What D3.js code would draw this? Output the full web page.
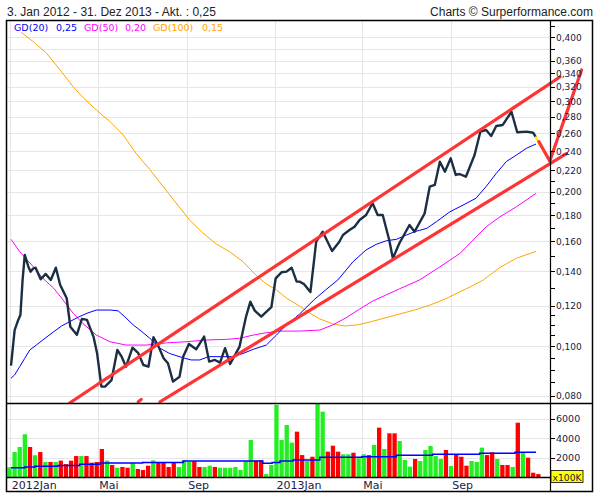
<!DOCTYPE html>
<html><head><meta charset="utf-8">
<script src="https://cdn.jsdelivr.net/npm/d3@7"></script>
<style>body{margin:0;background:#fff}svg{display:block}</style>
</head><body>
<svg id="c" width="600" height="500"></svg>
<script>
// ---------- DATA ----------
const priceDates = ["2012-01-02","2012-01-07","2012-01-12","2012-01-15","2012-01-18","2012-01-21","2012-01-26","2012-01-29","2012-02-02","2012-02-05",
"2012-02-12","2012-02-19","2012-02-26","2012-03-04","2012-03-10","2012-03-19","2012-03-24","2012-04-02","2012-04-09","2012-04-16",
"2012-04-25","2012-04-30","2012-05-06","2012-05-11","2012-05-20","2012-05-28","2012-06-03","2012-06-09","2012-06-18","2012-06-26",
"2012-07-03","2012-07-10","2012-07-17","2012-07-24","2012-07-31","2012-08-06","2012-08-13","2012-08-22","2012-08-27","2012-09-04",
"2012-09-14","2012-09-25","2012-10-02","2012-10-10","2012-10-17","2012-10-24","2012-10-31","2012-11-13","2012-11-22","2012-11-28",
"2012-12-04","2012-12-13","2012-12-27","2013-01-02","2013-01-10","2013-01-17","2013-01-24","2013-01-31","2013-02-04","2013-02-10",
"2013-02-19","2013-02-27","2013-03-08","2013-03-21","2013-03-31","2013-04-05","2013-04-14","2013-04-21","2013-04-28","2013-05-07",
"2013-05-16","2013-05-23","2013-05-30","2013-06-08","2013-06-13","2013-06-22","2013-07-06","2013-07-13","2013-07-27","2013-08-03",
"2013-08-10","2013-08-17","2013-08-24","2013-09-01","2013-09-08","2013-09-13","2013-09-22","2013-10-04","2013-10-12","2013-10-20",
"2013-10-27","2013-11-03","2013-11-12","2013-11-24","2013-12-02","2013-12-15","2013-12-24","2013-12-28"];
const priceValues = [0.0916,0.1075,0.1125,0.1150,0.1346,0.1506,0.1428,0.1397,0.1418,0.1422,
0.1350,0.1383,0.1346,0.1422,0.1316,0.1240,0.1091,0.1052,0.1130,0.1125,
0.1044,0.0969,0.0834,0.0834,0.0859,0.0983,0.0954,0.0912,0.0993,0.0969,
0.0919,0.0912,0.1041,0.0998,0.0947,0.0926,0.0853,0.0872,0.0954,0.1010,
0.0986,0.1044,0.0933,0.0940,0.0929,0.0991,0.0923,0.0998,0.1142,0.1221,
0.1173,0.1142,0.1191,0.1356,0.1393,0.1397,0.1422,0.1336,0.1336,0.1322,
0.1275,0.1598,0.1671,0.1533,0.1598,0.1647,0.1684,0.1709,0.1762,0.1801,
0.1899,0.1801,0.1801,0.1610,0.1483,0.1587,0.1722,0.1671,0.1815,0.2045,
0.2061,0.2288,0.2188,0.2323,0.2156,0.2165,0.2139,0.2358,0.2618,0.2638,
0.2568,0.2686,0.2698,0.2863,0.2611,0.2618,0.2606,0.2553];

const gd20Dates = ["2012-01-02","2012-01-07","2012-01-14","2012-01-21","2012-01-28","2012-02-06","2012-02-18","2012-03-01","2012-03-12","2012-03-23",
"2012-04-04","2012-04-16","2012-04-29","2012-05-18","2012-05-29","2012-06-07","2012-06-19","2012-07-01","2012-07-12","2012-07-26",
"2012-08-08","2012-08-25","2012-09-07","2012-09-19","2012-10-01","2012-10-17","2012-11-04","2012-11-18","2012-12-02","2012-12-20",
"2013-01-03","2013-01-12","2013-02-04","2013-02-25","2013-03-12","2013-03-29","2013-04-19","2013-05-07","2013-05-21","2013-06-04",
"2013-06-18","2013-07-02","2013-07-13","2013-07-30","2013-08-12","2013-08-31","2013-09-18","2013-10-06","2013-10-20","2013-11-03",
"2013-11-17","2013-12-01","2013-12-15","2013-12-28"];
const gd20Values = [0.0866,0.0879,0.0912,0.0947,0.0983,0.1005,0.1036,0.1067,0.1095,0.1116,
0.1139,0.1159,0.1176,0.1176,0.1172,0.1142,0.1100,0.1067,0.1036,0.0991,
0.0968,0.0951,0.0940,0.0940,0.0954,0.0954,0.0954,0.0968,0.0986,0.1005,
0.1051,0.1083,0.1155,0.1235,0.1287,0.1346,0.1461,0.1540,0.1579,0.1605,
0.1615,0.1647,0.1671,0.1697,0.1747,0.1828,0.1883,0.1942,0.2047,0.2171,
0.2290,0.2358,0.2431,0.2477];

const gd50Dates = ["2012-01-02","2012-01-14","2012-02-02","2012-02-15","2012-03-01","2012-03-14","2012-03-28","2012-04-10","2012-04-29","2012-05-18",
"2012-06-09","2012-07-07","2012-08-04","2012-08-31","2012-09-28","2012-10-26","2012-11-13","2012-12-02","2012-12-20","2013-01-08",
"2013-02-04","2013-03-04","2013-03-22","2013-04-09","2013-04-28","2013-05-16","2013-06-03","2013-06-22","2013-07-20","2013-08-17",
"2013-09-14","2013-10-02","2013-10-20","2013-11-08","2013-12-01","2013-12-28"];
const gd50Values = [0.1615,0.1528,0.1427,0.1356,0.1297,0.1230,0.1159,0.1108,0.1051,0.1020,
0.1005,0.1005,0.1015,0.1020,0.1028,0.1031,0.1036,0.1051,0.1062,0.1070,
0.1070,0.1075,0.1100,0.1135,0.1181,0.1224,0.1257,0.1293,0.1346,0.1427,
0.1517,0.1610,0.1708,0.1786,0.1870,0.1985];

const gd100Dates = ["2012-01-16","2012-02-02","2012-02-20","2012-03-10","2012-03-28","2012-04-10","2012-04-29","2012-05-18","2012-06-05","2012-06-23",
"2012-07-12","2012-08-08","2012-09-05","2012-09-23","2012-10-12","2012-10-31","2012-11-18","2012-12-06","2012-12-20","2013-01-03",
"2013-01-17","2013-02-04","2013-02-18","2013-03-04","2013-03-22","2013-04-07","2013-04-24","2013-05-12","2013-06-02","2013-06-22",
"2013-07-13","2013-08-03","2013-08-24","2013-09-13","2013-09-30","2013-10-16","2013-11-08","2013-12-01","2013-12-28"];
const gd100Values = [0.4089,0.3917,0.3724,0.3453,0.3201,0.3058,0.2885,0.2738,0.2580,0.2375,
0.2208,0.1975,0.1761,0.1663,0.1581,0.1526,0.1460,0.1374,0.1322,0.1287,
0.1240,0.1197,0.1160,0.1130,0.1105,0.1095,0.1100,0.1114,0.1135,0.1155,
0.1176,0.1202,0.1235,0.1275,0.1309,0.1346,0.1423,0.1484,0.1530];

// trend lines drawn on the chart (start / end)
const channelUpperDates = ["2012-03-23","2014-01-30"], channelUpperValues = [0.0775,0.3346];
const channelLowerDates = ["2012-07-26","2014-02-08"], channelLowerValues = [0.0779,0.2372];
const projDownDates = ["2014-01-01","2014-01-16"], projDownValues = [0.2503,0.2295];
const projUpDates = ["2014-01-16","2014-03-01"], projUpValues = [0.2295,0.3453];
const projHiDates = ["2013-12-27","2014-01-11"], projHiValues = [0.2560,0.2358];
const markDates = ["2012-06-26","2012-06-30"], markValues = [0.0779,0.0787];

// weekly volume (x100K), direction 1 = up (green), 0 = down (red)
const volValues = [1000,2560,3080,4380,3080,2230,2560,1540,1540,1540,1680,1330,1680,2150,2150,2150,1470,1540,2870,1680,
1230,950,1030,950,1440,820,720,1160,1710,1500,1500,1030,1500,1030,1710,1540,1610,1030,1030,1160,
1030,950,950,950,1030,720,1610,3790,1680,1710,300,1230,7390,3790,5330,3520,4650,
2250,1640,2080,7500,6700,2600,3210,2600,2330,2330,2490,1920,2330,2250,3280,5060,2870,4480,4480,3690,
1740,1060,1850,1640,2770,3180,2150,1850,2770,1130,2330,2080,1160,1640,1540,3010,2250,2530,1850,1230,
1230,1030,5570,2530,1980,440,300];
const volUp = [1,1,1,1,0,1,0,1,0,1,0,0,0,0,1,0,0,0,0,1,
0,1,0,0,1,0,0,0,1,0,0,0,0,1,1,1,0,0,1,1,
0,1,1,1,1,1,1,1,0,0,1,1,1,1,1,1,0,
0,1,0,1,1,0,0,0,1,1,0,1,1,0,1,0,1,0,0,1,
1,1,0,1,1,1,1,1,0,1,0,0,0,1,1,1,0,0,1,0,
0,1,0,1,0,0,0];
const volAvgDates = ["2012-01-02","2012-01-21","2012-02-04","2012-03-07","2012-04-06","2012-05-04","2012-07-02","2012-08-27","2012-12-15","2012-12-28",
"2013-01-08","2013-01-26","2013-03-04","2013-05-01","2013-06-18","2013-08-07","2013-10-11","2013-11-29","2013-12-28"];
const volAvgValues = [950,1030,1100,1170,1300,1440,1500,1640,1400,1500,1640,1740,2020,2080,2220,2330,2430,2530,2530];

const yTickLabels = [0.08,0.10,0.12,0.14,0.16,0.18,0.20,0.22,0.24,0.26,0.28,0.30,0.32,0.34,0.36,0.40];
const yGridValues = [0.08,0.10,0.12,0.14,0.16,0.18,0.20,0.22,0.24,0.26,0.28,0.30,0.32,0.34,0.36,0.38,0.40];
const yMinorTicks = [0.085,0.09,0.095,0.105,0.11,0.115,0.13,0.15,0.17,0.19,0.21,0.38,0.42];
const volTicks = [2000,4000,6000];
const xTickDates = ["2012-01-01","2012-05-01","2012-09-01","2013-01-01","2013-05-01","2013-09-01"];
const xTickLabels = ["2012Jan","Mai","Sep","2013Jan","Mai","Sep"];
const legendNames = ["GD(20)","GD(50)","GD(100)"];
const legendValues = ["0,25","0,20","0,15"];

// ---------- CHART ----------
const parse = d3.timeParse("%Y-%m-%d");
const svg = d3.select("#c");
const L = 7, R = 550, T = 21, PB = 403, VB = 477, B = 492;

const x = d3.scaleTime().domain([parse("2012-01-01"), parse("2013-09-01")]).range([10.3, 450.7]);
const y = d3.scaleLog().domain([0.08, 0.4]).range([395.9, 37.2]);
const yv = d3.scaleLinear().domain([0, 6000]).range([VB, VB - 58.5]);
const xb = d3.scaleBand().domain(d3.range(volValues.length)).range([7.3, 540.5]).paddingInner(0.16);

const defs = svg.append("defs");
defs.append("clipPath").attr("id","cp").append("rect").attr("x",L).attr("y",T).attr("width",R-L).attr("height",PB-T);
defs.append("clipPath").attr("id","cpr").append("rect").attr("x",L).attr("y",T).attr("width",600-L).attr("height",PB-T);
defs.append("clipPath").attr("id","cv").append("rect").attr("x",L).attr("y",PB).attr("width",R-L).attr("height",VB-PB);

const grid = "#e6e6e6";
// horizontal grid (price)
svg.append("g").selectAll("line").data(yGridValues).join("line")
  .attr("x1",L).attr("x2",R).attr("y1",d=>Math.round(y(d))+0.5).attr("y2",d=>Math.round(y(d))+0.5)
  .attr("stroke",grid).attr("stroke-width",1.2);
// vertical grid
svg.append("g").selectAll("line").data(xTickDates).join("line")
  .attr("x1",d=>Math.round(x(parse(d)))+0.5).attr("x2",d=>Math.round(x(parse(d)))+0.5)
  .attr("y1",T).attr("y2",VB).attr("stroke",grid).attr("stroke-width",1.2);
// volume horizontal grid
svg.append("g").selectAll("line").data(volTicks).join("line")
  .attr("x1",L).attr("x2",R).attr("y1",d=>Math.round(yv(d))+0.5).attr("y2",d=>Math.round(yv(d))+0.5)
  .attr("stroke",grid).attr("stroke-width",1.2);

const mk = (dates, vals) => dates.map((d,i)=>({d:parse(d), v:vals[i]}));
const line = d3.line().x(p=>x(p.d)).y(p=>y(p.v));

const gp = svg.append("g").attr("clip-path","url(#cp)");
gp.append("path").attr("d", line(mk(gd100Dates,gd100Values))).attr("fill","none").attr("stroke","#ffa500").attr("stroke-width",1);
gp.append("path").attr("d", line(mk(gd50Dates,gd50Values))).attr("fill","none").attr("stroke","#ff00ff").attr("stroke-width",1);
gp.append("path").attr("d", line(mk(gd20Dates,gd20Values))).attr("fill","none").attr("stroke","#0000ff").attr("stroke-width",1);
gp.append("path").attr("d", line(mk(priceDates,priceValues))).attr("fill","none").attr("stroke","#1c2e44").attr("stroke-width",2.4).attr("stroke-linejoin","round");

const gr = svg.append("g").attr("clip-path","url(#cpr)");
gr.append("path").attr("d", line(mk(projHiDates,projHiValues))).attr("fill","none").attr("stroke","#ffee00").attr("stroke-width",2.5);
[[channelUpperDates,channelUpperValues],[channelLowerDates,channelLowerValues],[projDownDates,projDownValues],[projUpDates,projUpValues],[markDates,markValues]]
  .forEach(([d,v])=>gr.append("path").attr("d", line(mk(d,v))).attr("fill","none").attr("stroke","#ff3333").attr("stroke-width",3.2).attr("stroke-linecap","round"));

// volume
const gv = svg.append("g").attr("clip-path","url(#cv)");
gv.selectAll("rect").data(volValues).join("rect")
  .attr("x",(d,i)=>xb(i)).attr("width",xb.bandwidth())
  .attr("y",d=>yv(d)).attr("height",d=>VB-yv(d))
  .attr("fill",(d,i)=>volUp[i] ? "#22ee22" : "#ff0000");
gv.append("path").attr("d", d3.line().curve(d3.curveStepAfter).x(p=>x(p.d)).y(p=>yv(p.v))(mk(volAvgDates,volAvgValues)))
  .attr("fill","none").attr("stroke","#0000ff").attr("stroke-width",1.5);

// frame
const fr = svg.append("g").attr("stroke","#000");
fr.append("rect").attr("x",6.5).attr("y",20.5).attr("width",586).attr("height",471).attr("fill","none").attr("stroke-width",1.5);
fr.append("line").attr("x1",6).attr("x2",593).attr("y1",PB+0.5).attr("y2",PB+0.5).attr("stroke-width",1.5);
fr.append("line").attr("x1",6).attr("x2",R).attr("y1",VB+0.5).attr("y2",VB+0.5).attr("stroke-width",1.5);
fr.append("line").attr("x1",R+0.5).attr("x2",R+0.5).attr("y1",20).attr("y2",B).attr("stroke-width",1.2);

// y ticks
const tickCol = "#1a1a40";
const ta = svg.append("g");
ta.selectAll("line.mi").data(yMinorTicks.concat(yTickLabels)).join("line")
  .attr("x1",R).attr("x2",R+5).attr("y1",d=>Math.round(y(d))+0.5).attr("y2",d=>Math.round(y(d))+0.5)
  .attr("stroke","#000").attr("stroke-width",1);
const fmt = d=>d3.format(".3f")(d).replace(".",",");
ta.selectAll("text").data(yTickLabels).join("text")
  .attr("x",R+6).attr("y",d=>y(d)+3.5).text(fmt)
  .attr("font-family","DejaVu Sans, Verdana, sans-serif").attr("font-size",9).attr("fill",tickCol);
const tv = svg.append("g");
tv.selectAll("line").data(volTicks).join("line")
  .attr("x1",R).attr("x2",R+5).attr("y1",d=>Math.round(yv(d))+0.5).attr("y2",d=>Math.round(yv(d))+0.5)
  .attr("stroke","#000");
tv.selectAll("text").data(volTicks).join("text")
  .attr("x",R+6).attr("y",d=>yv(d)+3.5).text(d=>d)
  .attr("font-family","DejaVu Sans, Verdana, sans-serif").attr("font-size",9.5).attr("fill",tickCol);
svg.append("rect").attr("x",551).attr("y",470.5).attr("width",32).attr("height",12).attr("fill","#ffff00").attr("stroke","#000").attr("stroke-width",0.8);
svg.append("text").attr("x",552.5).attr("y",480.5).text("x100K")
  .attr("font-family","DejaVu Sans, Verdana, sans-serif").attr("font-size",9.2).attr("fill","#1a1a40");

// x labels
svg.append("g").selectAll("text").data(xTickDates).join("text")
  .attr("x",d=>x(parse(d))+1.5).attr("y",489).text((d,i)=>xTickLabels[i])
  .attr("font-family","DejaVu Sans, Verdana, sans-serif").attr("font-size",11).attr("fill","#1a1a40");

// header
svg.append("text").attr("x",7).attr("y",16).text("3. Jan 2012 - 31. Dez 2013 - Akt. : 0,25")
  .attr("font-family","Liberation Sans, Arial, sans-serif").attr("font-size",12).attr("fill","#222");
svg.append("text").attr("x",593).attr("y",16).attr("text-anchor","end").text("Charts © Surperformance.com")
  .attr("font-family","Liberation Sans, Arial, sans-serif").attr("font-size",12).attr("fill","#222");

// legend
const legCols = ["#0000ff","#ff00ff","#ffa500"];
const legX = [14,84,153], legVX = [56,125,202];
const lg = svg.append("g").attr("font-family","DejaVu Sans, Verdana, sans-serif").attr("font-size",9.5);
legendNames.forEach((n,i)=>{
  lg.append("text").attr("x",legX[i]).attr("y",31).text(n).attr("fill",legCols[i]);
  lg.append("text").attr("x",legVX[i]).attr("y",31).text(legendValues[i]).attr("fill",legCols[i]);
});
</script>
</body></html>
